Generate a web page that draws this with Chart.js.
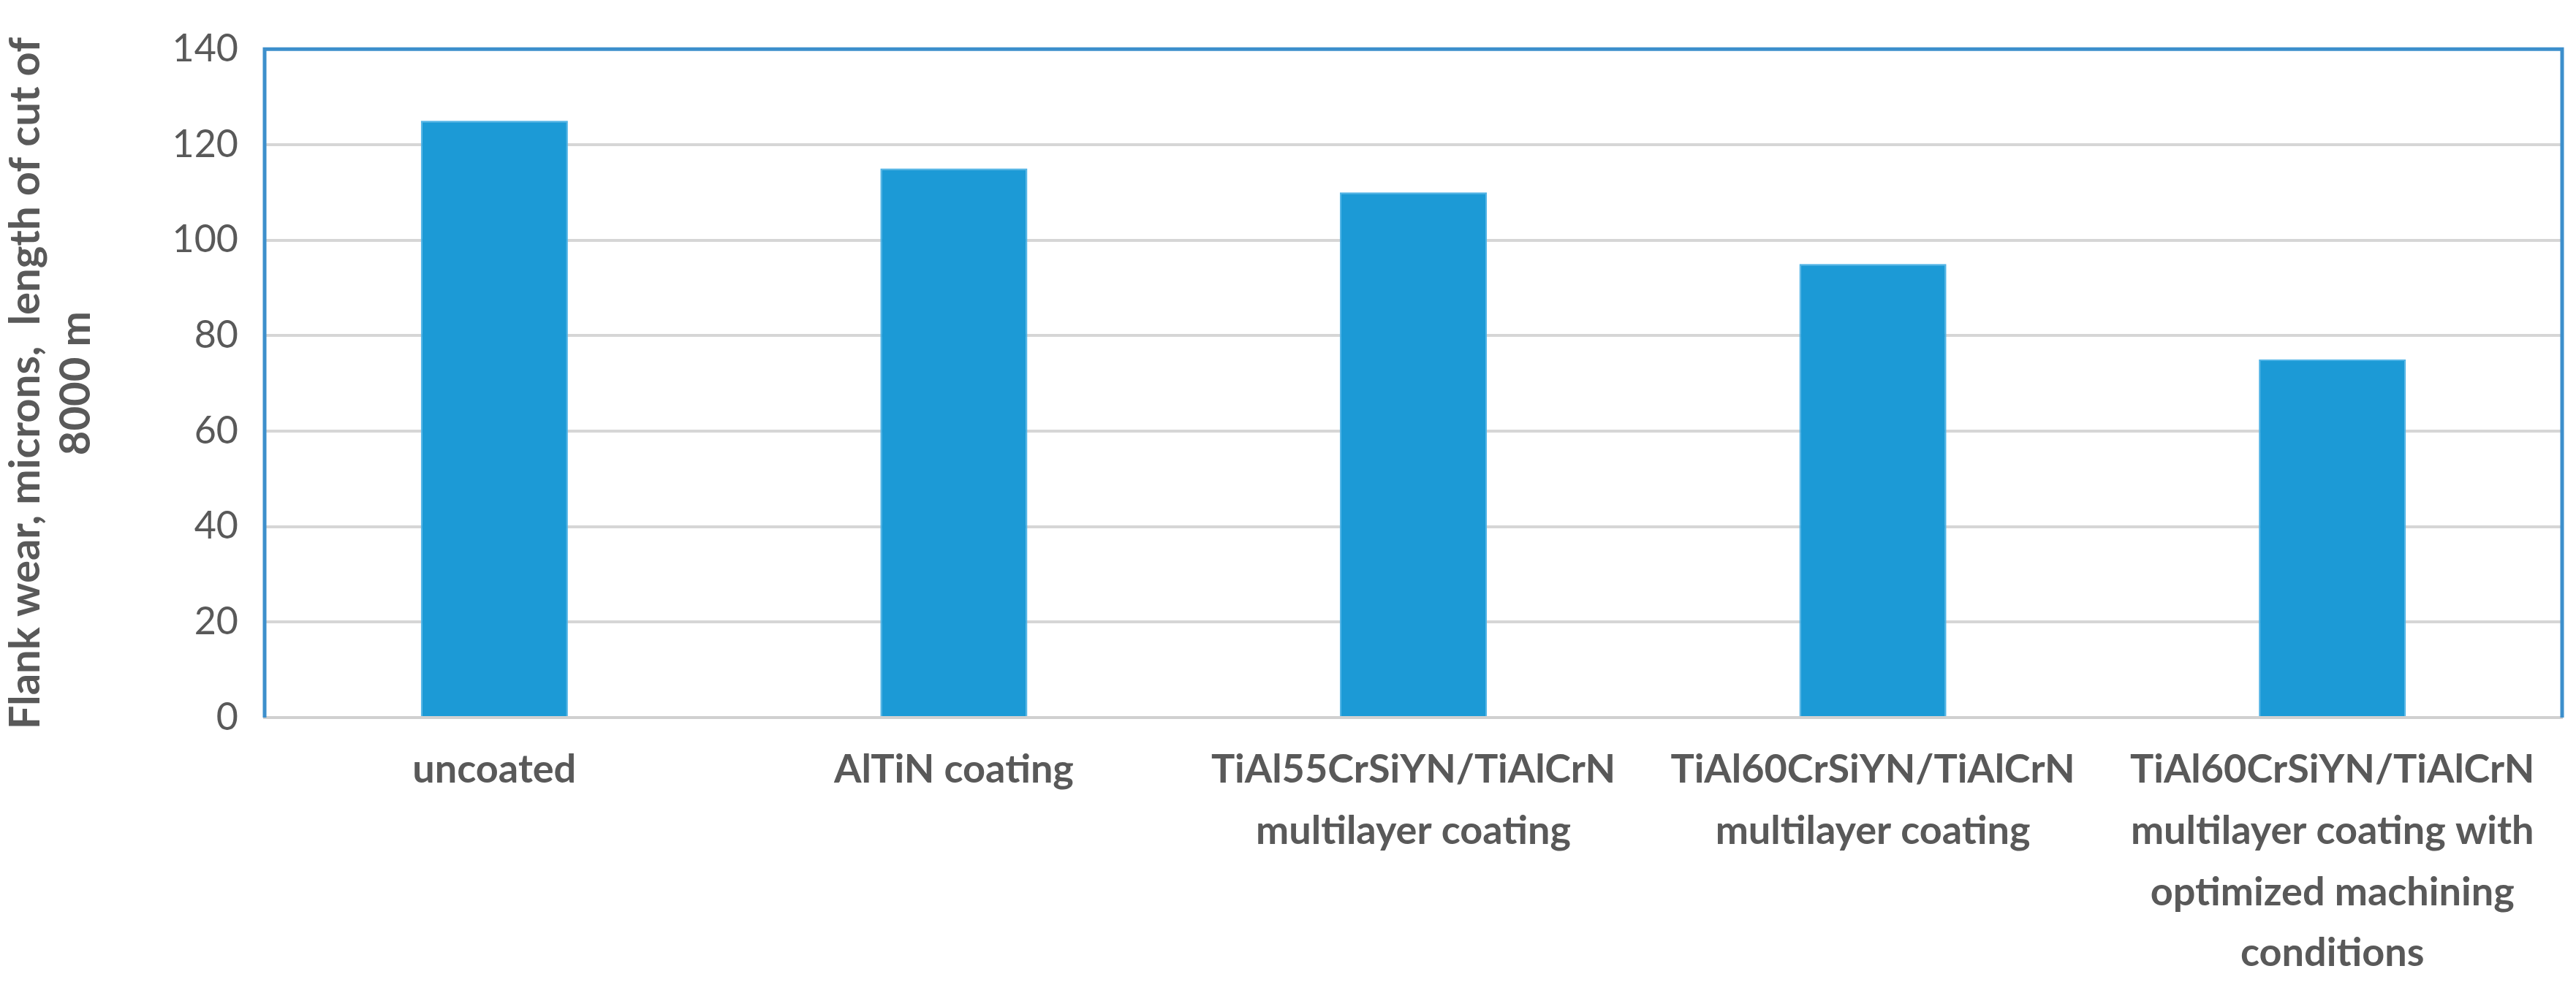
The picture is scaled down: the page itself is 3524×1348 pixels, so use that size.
<!DOCTYPE html>
<html>
<head>
<meta charset="utf-8">
<script src="https://cdn.jsdelivr.net/npm/chart.js@4/dist/chart.umd.min.js"></script>
<style>
  html, body { margin: 0; padding: 0; background: #fff; }
  #wrap { width: 3524px; height: 1348px; }
</style>
</head>
<body>
<div id="wrap"><canvas id="c" width="3524" height="1348"></canvas></div>
<script>
const categories = [
    ['uncoated'],
    ['AlTiN coating'],
    ['TiAl55CrSiYN/TiAlCrN', 'multilayer coating'],
    ['TiAl60CrSiYN/TiAlCrN', 'multilayer coating'],
    ['TiAl60CrSiYN/TiAlCrN', 'multilayer coating with', 'optimized machining', 'conditions'],
];
const flankWear = [125, 115, 110, 95, 75];
const yTitle = ['Flank wear, microns,  length of cut of', '8000 m'];

// blue frame around the plot area, like the original
const frame = {
    id: 'frame',
    afterDraw(chart) {
        const { ctx, chartArea: a } = chart;
        ctx.save();
        ctx.strokeStyle = '#3d8fcc';
        ctx.lineWidth = 5;
        ctx.beginPath();
        ctx.moveTo(a.left, a.bottom);
        ctx.lineTo(a.left, a.top);
        ctx.lineTo(a.right, a.top);
        ctx.lineTo(a.right, a.bottom);
        ctx.stroke();
        ctx.restore();
    }
};

new Chart(document.getElementById('c').getContext('2d'), {
    type: 'bar',
    data: {
        labels: categories,
        datasets: [{
            data: flankWear,
            backgroundColor: '#1c9ad6',
            borderColor: '#4fb3e6',
            borderWidth: 2,
            categoryPercentage: 1,
            barPercentage: 0.32,
        }],
    },
    options: {
        responsive: false,
        animation: false,
        devicePixelRatio: 1,
        layout: { padding: { top: 5, right: 19 } },
        plugins: { legend: { display: false }, tooltip: { enabled: false } },
        scales: {
            x: {
                grid: { display: false },
                border: { color: '#d0d0d0', width: 4 },
                ticks: {
                    color: '#595959',
                    font: { family: 'Lato', size: 54, weight: 'bold', lineHeight: 1.55 },
                    padding: 22,
                    maxRotation: 0,
                    autoSkip: false,
                },
                afterFit: s => { s.height = 366; },
            },
            y: {
                min: 0,
                max: 140,
                ticks: {
                    stepSize: 20,
                    color: '#595959',
                    font: { family: 'Lato', size: 52 },
                    padding: 36,
                },
                grid: { color: '#d6d6d6', lineWidth: 4, drawTicks: false },
                border: { display: false },
                title: {
                    display: true,
                    text: yTitle,
                    color: '#595959',
                    font: { family: 'Lato', size: 58, weight: 'bold' },
                    padding: 0,
                },
                afterFit: s => { s.width = 362; },
            },
        },
    },
    plugins: [frame],
});
</script>
</body>
</html>
